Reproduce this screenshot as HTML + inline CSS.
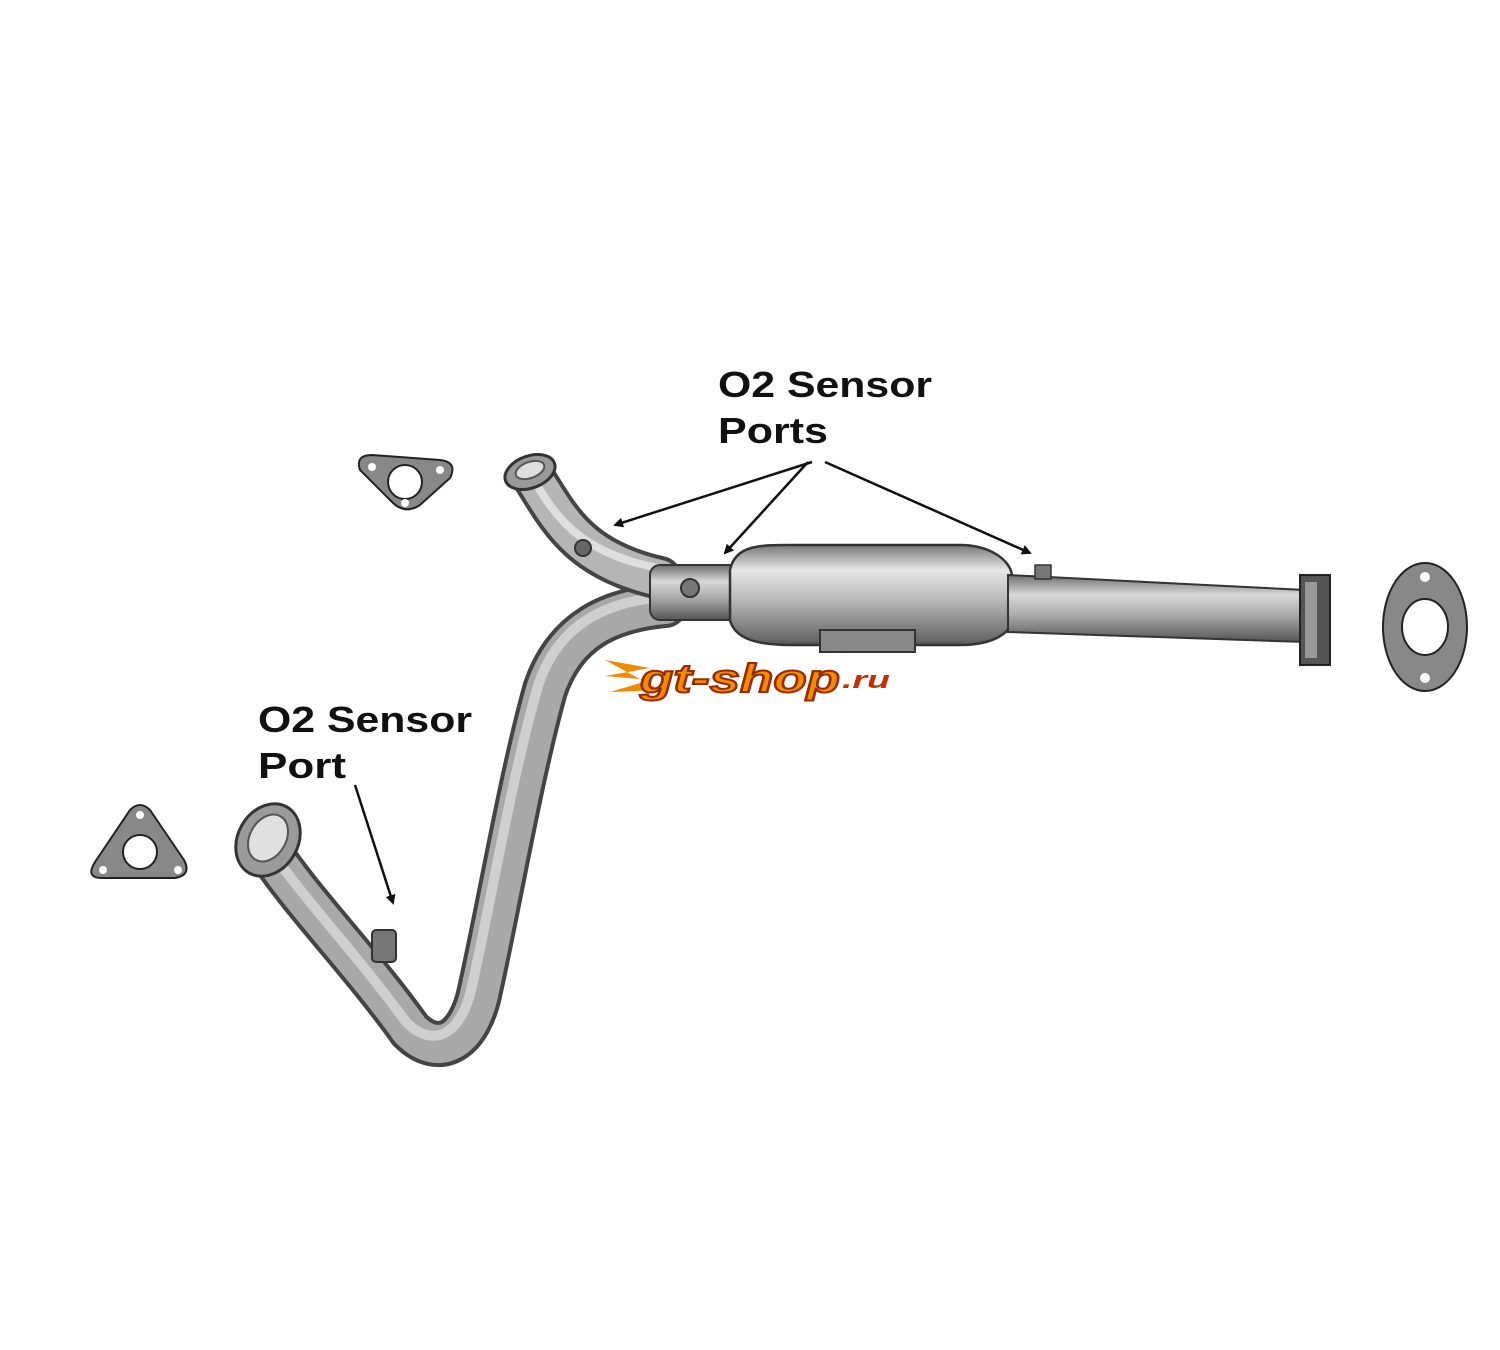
<!DOCTYPE html>
<html><head><meta charset="utf-8"><style>
html,body{margin:0;padding:0;background:#fff;}
svg{display:block}
</style></head><body>
<svg width="1500" height="1350" viewBox="0 0 1500 1350" xmlns="http://www.w3.org/2000/svg">
<defs>
<linearGradient id="pv" x1="0" y1="0" x2="0" y2="1">
<stop offset="0" stop-color="#6e6e6e"/><stop offset="0.3" stop-color="#d8d8d8"/><stop offset="0.6" stop-color="#a9a9a9"/><stop offset="1" stop-color="#555"/></linearGradient>
<linearGradient id="cat" x1="0" y1="0" x2="0" y2="1">
<stop offset="0" stop-color="#777"/><stop offset="0.25" stop-color="#e6e6e6"/><stop offset="0.55" stop-color="#b8b8b8"/><stop offset="1" stop-color="#5c5c5c"/></linearGradient>
<marker id="ah" markerWidth="10" markerHeight="10" refX="8" refY="5" orient="auto" markerUnits="userSpaceOnUse">
<path d="M0,0 L10,5 L0,10 z" fill="#111"/></marker>
</defs>

<path d="M265,845 C300,900 360,960 410,1030 C440,1060 470,1040 480,990 C500,900 520,780 545,690 C565,630 610,610 665,605" fill="none" stroke="#444" stroke-width="46" stroke-linecap="round"/>
<path d="M265,845 C300,900 360,960 410,1030 C440,1060 470,1040 480,990 C500,900 520,780 545,690 C565,630 610,610 665,605" fill="none" stroke="#a8a8a8" stroke-width="38" stroke-linecap="round"/>
<path d="M262,838 C298,893 356,953 406,1022 C434,1050 462,1034 472,986 C492,896 512,776 538,686 C558,624 606,602 662,597" fill="none" stroke="#cfcfcf" stroke-width="10" stroke-linecap="round"/>
<ellipse cx="268" cy="840" rx="30" ry="38" transform="rotate(30 268 840)" fill="#9a9a9a" stroke="#333" stroke-width="3"/>
<ellipse cx="268" cy="838" rx="18" ry="25" transform="rotate(30 268 838)" fill="#e0e0e0" stroke="#555" stroke-width="2"/>
<rect x="372" y="930" width="24" height="32" rx="4" fill="#777" stroke="#333" stroke-width="2"/>

<path d="M535,480 C560,520 580,560 660,578" fill="none" stroke="#444" stroke-width="44" stroke-linecap="round"/>
<path d="M535,480 C560,520 580,560 660,578" fill="none" stroke="#b5b5b5" stroke-width="36" stroke-linecap="round"/>
<path d="M530,474 C553,512 575,552 658,568" fill="none" stroke="#dedede" stroke-width="8" stroke-linecap="round"/>
<ellipse cx="530" cy="472" rx="26" ry="16" transform="rotate(-20 530 472)" fill="#999" stroke="#333" stroke-width="3"/>
<ellipse cx="530" cy="470" rx="15" ry="8" transform="rotate(-20 530 470)" fill="#ddd" stroke="#555" stroke-width="2"/>
<circle cx="583" cy="548" r="8" fill="#666" stroke="#333" stroke-width="2"/>

<rect x="650" y="565" width="90" height="55" rx="10" fill="url(#pv)" stroke="#333" stroke-width="2"/>
<circle cx="690" cy="588" r="9" fill="#777" stroke="#333" stroke-width="2"/>

<path d="M730,570 C735,545 760,545 790,545 L960,545 C990,545 1010,560 1012,575 L1012,620 C1010,635 990,645 960,645 L790,645 C760,645 735,640 730,620 Z" fill="url(#cat)" stroke="#333" stroke-width="2.5"/>
<rect x="820" y="630" width="95" height="22" fill="#888" stroke="#333" stroke-width="2"/>

<path d="M1008,575 L1305,590 L1305,642 L1008,632 Z" fill="url(#pv)" stroke="#333" stroke-width="2"/>
<rect x="1035" y="565" width="16" height="14" fill="#777" stroke="#333" stroke-width="1.5"/>
<rect x="1300" y="575" width="30" height="90" fill="#555" stroke="#222" stroke-width="2"/>
<rect x="1305" y="582" width="12" height="76" fill="#999"/>

<path d="M360,470 Q355,455 372,455 L440,460 Q458,462 450,478 L420,505 Q405,515 392,502 Z" fill="#888" stroke="#222" stroke-width="2"/>
<circle cx="405" cy="482" r="17" fill="#fff" stroke="#222" stroke-width="2"/>
<circle cx="372" cy="467" r="4" fill="#fff"/><circle cx="440" cy="470" r="4" fill="#fff"/><circle cx="405" cy="503" r="4" fill="#fff"/>
<path d="M95,862 Q85,878 102,878 L175,878 Q192,875 184,860 L150,810 Q140,800 130,810 Z" fill="#888" stroke="#222" stroke-width="2"/>
<circle cx="140" cy="852" r="17" fill="#fff" stroke="#222" stroke-width="2"/>
<circle cx="140" cy="815" r="4" fill="#fff"/><circle cx="103" cy="870" r="4" fill="#fff"/><circle cx="178" cy="870" r="4" fill="#fff"/>
<ellipse cx="1425" cy="627" rx="42" ry="64" fill="#888" stroke="#222" stroke-width="2"/>
<ellipse cx="1425" cy="627" rx="23" ry="28" fill="#fff" stroke="#222" stroke-width="2"/>
<circle cx="1425" cy="577" r="5" fill="#fff"/><circle cx="1425" cy="678" r="5" fill="#fff"/>

<g stroke="#111" stroke-width="2.5" fill="none">
<line x1="812" y1="462" x2="615" y2="525" marker-end="url(#ah)"/>
<line x1="808" y1="462" x2="725" y2="553" marker-end="url(#ah)"/>
<line x1="825" y1="462" x2="1030" y2="553" marker-end="url(#ah)"/>
<line x1="355" y1="785" x2="393" y2="903" marker-end="url(#ah)"/>
</g>

<g font-family="Liberation Sans, Arial, sans-serif" font-weight="bold" font-size="36" fill="#111">
<text x="718" y="397" textLength="214" lengthAdjust="spacingAndGlyphs">O2 Sensor</text>
<text x="718" y="443" textLength="110" lengthAdjust="spacingAndGlyphs">Ports</text>
<text x="258" y="732" textLength="214" lengthAdjust="spacingAndGlyphs">O2 Sensor</text>
<text x="258" y="778" textLength="88" lengthAdjust="spacingAndGlyphs">Port</text>
</g>

<g>
<path d="M605,660 L650,668 L605,676 L650,680 L610,692 L660,690 Z" fill="#f08a00"/>
<text x="640" y="692" textLength="200" lengthAdjust="spacingAndGlyphs" font-family="Liberation Sans, Arial, sans-serif" font-weight="bold" font-style="italic" font-size="40" fill="#f28c00" stroke="#9a2a00" stroke-width="2">gt-shop</text>
<text x="842" y="688" textLength="48" lengthAdjust="spacingAndGlyphs" font-family="Liberation Sans, Arial, sans-serif" font-weight="bold" font-style="italic" font-size="24" fill="#c03000">.ru</text>
</g>
</svg>
</body></html>
